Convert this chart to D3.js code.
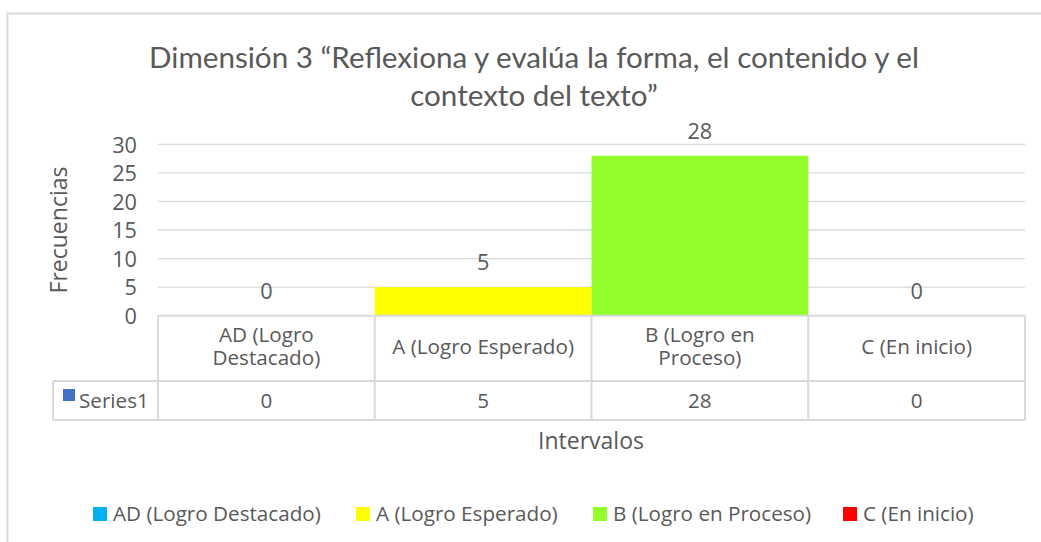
<!DOCTYPE html>
<html>
<head>
<meta charset="utf-8">
<script src="https://cdn.jsdelivr.net/npm/d3@7"></script>
<style>
  html, body { margin: 0; padding: 0; background: #fff; }
  svg { display: block; }
  text { font-family: "Open Sans", "Noto Sans", sans-serif; fill: #595959; }
  text.title { font-family: Lato, sans-serif; font-weight: 400; }
</style>
</head>
<body>
<svg id="chart" width="1041" height="542"></svg>
<script>
const titleLines = ["Dimensión 3 “Reflexiona y evalúa la forma, el contenido y el", "contexto del texto”"];
const categories = ["AD (Logro Destacado)", "A (Logro Esperado)", "B (Logro en Proceso)", "C (En inicio)"];
const categoryLines = [["AD (Logro", "Destacado)"], ["A (Logro Esperado)"], ["B (Logro en", "Proceso)"], ["C (En inicio)"]];
const values = [0, 5, 28, 0];
const colors = ["#00B0F0", "#FFFF00", "#92FF2A", "#FF0000"];
const yTicks = [0, 5, 10, 15, 20, 25, 30];
const seriesName = "Series1";
const yTitle = "Frecuencias";
const xTitle = "Intervalos";

(function () {
const svg = d3.select("#chart");
const grid = "#D9D9D9";

// find the font size that gives a string a target width
function fitSize(str, target, cls) {
  const t = svg.append("text").attr("class", cls || null).attr("font-size", 20).text(str);
  const w = t.node().getComputedTextLength();
  t.remove();
  return 20 * target / w;
}
const fsBody = fitSize("A (Logro Esperado)", 182);
const fsLegend = fitSize("AD (Logro Destacado)", 208);
const fsAxisTitle = fitSize("Intervalos", 106);
const fsTitle = fitSize(titleLines[0], 770, "title");

// frame
svg.append("rect").attr("x", 7.5).attr("y", 13.5).attr("width", 1100).attr("height", 600)
  .attr("fill", "none").attr("stroke", grid).attr("stroke-width", 2);

const pLeft = 158, pRight = 1025, pTop = 144.3, pBottom = 315.7;
const x = d3.scaleBand().domain(categories).range([pLeft, pRight]).padding(0);
const y = d3.scaleLinear().domain([0, 30]).range([pBottom, pTop]);

// gridlines
svg.append("g").selectAll("line").data(yTicks.filter(d => d > 0)).join("line")
  .attr("x1", pLeft).attr("x2", pRight).attr("y1", d => y(d)).attr("y2", d => y(d))
  .attr("stroke", grid).attr("stroke-width", 1.3);

// y axis labels
const yAxis = d3.axisLeft(y).tickValues(yTicks).tickSize(0).tickPadding(0);
const gy = svg.append("g").attr("transform", `translate(137,0)`).call(yAxis);
gy.select(".domain").remove();
gy.attr("font-family", null).attr("font-size", null);
gy.selectAll("text").attr("font-size", fsBody + 1).attr("fill", "#595959").attr("dy", "0.36em");

// bars
svg.append("g").selectAll("rect").data(values).join("rect")
  .attr("x", (d, i) => x(categories[i])).attr("width", x.bandwidth())
  .attr("y", d => y(d)).attr("height", d => y(0) - y(d))
  .attr("fill", (d, i) => colors[i]);

// data labels
svg.append("g").selectAll("text").data(values).join("text")
  .attr("x", (d, i) => x(categories[i]) + x.bandwidth() / 2)
  .attr("y", d => y(d) - 25).attr("dy", "0.36em")
  .attr("text-anchor", "middle").attr("font-size", fsBody + 1).text(d => d);

// data table
const hdrTop = pBottom, hdrBot = 381, rowBot = 420, rowLeft = 53;
const tg = svg.append("g");
tg.append("line").attr("x1", pLeft).attr("x2", pRight).attr("y1", hdrTop).attr("y2", hdrTop).attr("stroke", grid).attr("stroke-width", 2);
tg.append("line").attr("x1", rowLeft).attr("x2", pRight).attr("y1", hdrBot).attr("y2", hdrBot).attr("stroke", grid).attr("stroke-width", 2);
tg.append("line").attr("x1", rowLeft).attr("x2", pRight).attr("y1", rowBot).attr("y2", rowBot).attr("stroke", grid).attr("stroke-width", 2);
tg.append("line").attr("x1", rowLeft).attr("x2", rowLeft).attr("y1", hdrBot).attr("y2", rowBot).attr("stroke", grid).attr("stroke-width", 2);
const vlines = categories.map(c => x(c)).concat([pRight]);
tg.selectAll(".v").data(vlines).join("line").attr("class", "v")
  .attr("x1", d => d).attr("x2", d => d).attr("y1", hdrTop).attr("y2", rowBot)
  .attr("stroke", grid).attr("stroke-width", 2);

// header text (one text element per cell, lines as tspans)
categoryLines.forEach((lines, i) => {
  const cx = x(categories[i]) + x.bandwidth() / 2;
  const mid = (hdrTop + hdrBot) / 2 - 2;
  const lh = 23;
  const t = tg.append("text").attr("text-anchor", "middle").attr("font-size", fsBody);
  lines.forEach((ln, j) => {
    t.append("tspan").attr("x", cx)
      .attr("y", mid + (j - (lines.length - 1) / 2) * lh)
      .attr("dy", "0.36em").text(ln);
  });
});
// series row
tg.append("rect").attr("x", 63).attr("y", 389).attr("width", 12).attr("height", 12).attr("fill", "#4472C4");
tg.append("text").attr("x", 79).attr("y", (hdrBot + rowBot) / 2).attr("dy", "0.36em").attr("font-size", fsBody).text(seriesName);
tg.selectAll(".val").data(values).join("text").attr("class", "val")
  .attr("x", (d, i) => x(categories[i]) + x.bandwidth() / 2).attr("y", (hdrBot + rowBot) / 2)
  .attr("dy", "0.36em").attr("text-anchor", "middle").attr("font-size", fsBody).text(d => d);

// axis titles
svg.append("text").attr("x", 591).attr("y", 441).attr("dy", "0.36em").attr("text-anchor", "middle")
  .attr("font-size", fsAxisTitle).text(xTitle);
svg.append("text").attr("transform", "translate(59,230) rotate(-90)").attr("dy", "0.36em")
  .attr("text-anchor", "middle").attr("font-size", fsAxisTitle).text(yTitle);

// title
const tt = svg.append("text").attr("class", "title").attr("text-anchor", "middle").attr("font-size", fsTitle);
titleLines.forEach((ln, i) => {
  tt.append("tspan").attr("x", 534).attr("y", 57 + i * 38).attr("dy", "0.36em").text(ln);
});

// legend
const legX = [93, 356, 593, 843];
const lg = svg.append("g");
categories.forEach((c, i) => {
  lg.append("rect").attr("x", legX[i]).attr("y", 507).attr("width", 14).attr("height", 14).attr("fill", colors[i]);
  lg.append("text").attr("x", legX[i] + 20).attr("y", 514).attr("dy", "0.36em").attr("font-size", fsLegend).text(c);
});
})();
</script>
</body>
</html>
